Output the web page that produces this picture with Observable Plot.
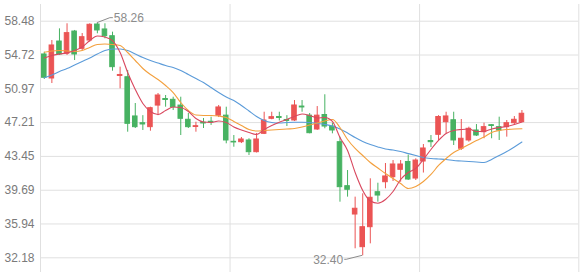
<!DOCTYPE html>
<html><head><meta charset="utf-8">
<script src="https://cdn.jsdelivr.net/npm/d3@7"></script>
<script src="https://cdn.jsdelivr.net/npm/@observablehq/plot@0.6"></script>
<style>
html,body{margin:0;padding:0;background:#fff;}
#chart{width:581px;height:276px;}
</style></head><body><div id="chart"></div>
<script>
// category axis (71 slots, 64 of them with trading data)
const days = [1,2,3,4,5,6,7,8,9,10,11,12,13,14,15,16,17,18,19,20,21,22,23,24,25,26,27,28,29,30,31,32,33,34,35,36,37,38,39,40,41,42,43,44,45,46,47,48,49,50,51,52,53,54,55,56,57,58,59,60,61,62,63,64,65,66,67,68,69,70,71];
const yTicks = [32.18, 35.94, 39.69, 43.45, 47.21, 50.97, 54.72, 58.48];
const gridDays = [0, 25, 50, 71];

const open  = [54.78,52.11,56.22,54.86,57.33,55.41,56.33,58.11,57.56,56.81,52.39,52.25,47.89,47.14,46.70,49.10,49.83,49.74,49.10,47.52,46.72,47.19,47.30,47.98,47.98,45.07,45.03,45.22,43.92,45.96,47.63,47.83,47.50,47.44,48.99,47.98,46.44,48.05,46.77,45.03,40.14,36.99,33.36,35.58,39.47,40.58,41.14,41.96,42.83,40.99,42.88,45.16,45.85,47.25,47.47,44.30,45.22,46.33,46.14,46.92,46.70,46.70,47.14,47.25];
const close = [52.19,55.78,54.78,57.15,54.78,56.70,58.08,57.45,56.81,53.37,52.50,47.07,46.70,47.00,48.81,50.22,49.72,48.92,47.63,46.70,46.81,47.11,47.22,48.89,45.22,45.00,45.33,43.92,45.33,47.44,47.81,47.72,47.39,49.11,48.89,46.03,47.98,46.77,46.33,40.03,39.74,37.63,35.58,38.85,39.10,41.22,42.55,42.55,40.88,42.99,44.33,45.03,47.83,47.89,45.22,45.41,46.52,45.77,46.70,46.83,46.33,47.14,47.52,48.19];
const high  = [55.03,56.33,57.63,58.19,57.45,57.11,58.19,58.26,58.19,57.26,53.37,53.00,49.33,47.98,48.92,50.44,50.22,50.03,50.03,48.22,47.25,47.66,47.81,49.11,48.92,45.77,45.55,45.41,46.00,48.36,48.36,48.36,47.98,49.66,49.66,48.22,48.99,50.30,47.14,45.58,41.88,38.92,39.29,40.96,40.47,42.66,42.99,42.99,43.61,43.18,44.77,45.77,47.98,48.36,48.36,47.55,46.70,46.99,47.14,46.99,47.81,47.44,47.88,48.55];
const low   = [52.00,51.55,54.67,54.67,54.11,55.22,56.14,57.08,56.52,52.92,50.96,46.14,46.55,46.33,46.25,47.98,48.92,48.55,45.77,46.55,46.14,46.55,46.89,47.77,44.85,44.47,44.88,43.55,43.83,45.88,47.52,47.39,46.77,47.33,48.36,45.96,46.33,46.52,45.96,38.36,38.92,33.18,32.40,33.73,38.36,39.85,40.66,40.58,40.77,40.77,41.60,44.44,45.22,45.96,44.66,44.11,45.03,45.66,45.41,45.41,45.22,45.59,46.89,47.19];

const ma5  = [54.39,54.67,54.83,54.94,55.22,55.61,56.33,56.83,56.72,56.33,55.00,52.78,50.89,49.33,48.44,48.11,48.55,48.94,48.89,48.44,47.66,47.27,47.22,47.39,47.22,46.72,46.39,46.11,45.88,46.44,46.89,47.25,47.55,47.89,48.16,48.00,47.72,47.77,47.33,45.55,44.11,41.66,39.66,38.49,38.25,38.66,39.55,40.88,41.66,42.11,43.11,44.22,45.22,45.99,46.33,46.44,46.50,46.22,46.22,46.50,46.66,46.77,46.99,47.27];
const ma10 = [55.03,55.17,55.22,55.17,55.11,55.22,55.56,55.89,55.94,55.89,55.78,55.00,54.11,53.22,52.55,52.00,51.33,50.55,49.44,48.55,48.05,48.00,48.00,47.94,47.77,47.33,46.89,46.44,46.27,46.33,46.39,46.44,46.50,46.55,46.72,46.94,47.16,47.39,47.55,46.66,45.33,44.33,43.55,42.77,42.16,41.55,40.99,40.44,39.88,40.10,40.66,41.44,42.44,43.22,43.88,44.33,44.77,45.22,45.61,46.11,46.33,46.44,46.50,46.52];
const ma20 = [52.19,52.50,52.89,53.22,53.61,54.00,54.39,54.83,55.22,55.39,55.39,55.22,54.83,54.44,54.11,53.83,53.55,53.33,53.00,52.55,52.11,51.66,51.11,50.55,50.05,49.66,49.11,48.50,47.89,47.44,47.22,47.16,47.22,47.25,47.25,47.22,47.11,47.00,46.83,46.50,46.05,45.55,45.11,44.77,44.50,44.27,44.16,43.99,43.77,43.55,43.33,43.22,43.16,43.11,42.99,42.94,42.88,42.83,42.77,43.11,43.55,43.99,44.50,45.05];

const UP = "#eb5454", DOWN = "#47b262";
const candles = open.map((o, i) => ({i, day: days[i], open: o, close: close[i], high: high[i], low: low[i], up: close[i] >= o}));
const lineData = (arr) => arr.map((v, i) => ({i, v}));
const cx = d => d.i + 0.5;

const plot = Plot.plot({
  width: 581, height: 276,
  marginLeft: 40, marginRight: 2.7, marginTop: 4, marginBottom: 4,
  style: {fontFamily: "'Liberation Sans', Arial, sans-serif", fontSize: "12px", background: "#fff", overflow: "visible"},
  x: {type: "linear", domain: [0, days.length], axis: null},
  y: {domain: [30.544, 60.335], axis: null},
  marks: [
    Plot.ruleY(yTicks, {stroke: "#e0e0e0", strokeWidth: 1}),
    Plot.ruleX(gridDays, {stroke: "#e0e0e0", strokeWidth: 1}),
    Plot.text(yTicks, {x: 0, y: d => d, text: d => d.toFixed(2), textAnchor: "end", dx: -6, fill: "#7a7a7a", fontSize: 12}),
    Plot.ruleX(candles, {x: cx, y1: "low", y2: "high", stroke: d => d.up ? UP : DOWN, strokeWidth: 1}),
    Plot.rect(candles, {x1: d => d.i + 0.2, x2: d => d.i + 0.8, y1: "open", y2: "close", fill: d => d.up ? UP : DOWN, stroke: d => d.up ? UP : DOWN, strokeWidth: 1}),
    Plot.line(lineData(ma20), {x: cx, y: "v", stroke: "#5b9bd9", strokeWidth: 1.1, curve: "monotone-x"}),
    Plot.line(lineData(ma10), {x: cx, y: "v", stroke: "#f3a03e", strokeWidth: 1.1, curve: "monotone-x"}),
    Plot.line(lineData(ma5), {x: cx, y: "v", stroke: "#d9485f", strokeWidth: 1.1, curve: "monotone-x"})
  ]
});
document.getElementById("chart").appendChild(plot);

// max / min markers with leader lines, positioned through the plot's scales
const sx = plot.scale("x"), sy = plot.scale("y");
const svg = d3.select(plot);
const iMax = d3.maxIndex(high), iMin = d3.minIndex(low);
const mx = sx.apply(iMax + 0.5), my = sy.apply(high[iMax]);
const nx = sx.apply(iMin + 0.5), ny = sy.apply(low[iMin]);
const g = svg.append("g").attr("fill", "none").attr("stroke", "#8c8c8c").attr("stroke-width", 1);
g.append("polyline").attr("points", `${mx},${my} ${mx + 13},${my - 5} ${mx + 16},${my - 5}`);
g.append("polyline").attr("points", `${nx},${ny} ${nx - 16},${ny + 4} ${nx - 18},${ny + 4}`);
const t = svg.append("g").attr("fill", "#8c8c8c").attr("font-size", 12).attr("font-family", "'Liberation Sans', Arial, sans-serif");
t.append("text").attr("x", mx + 17).attr("y", my - 5).attr("dy", "0.35em").attr("text-anchor", "start").text(d3.format(".2f")(high[iMax]));
t.append("text").attr("x", nx - 19).attr("y", ny + 4).attr("dy", "0.35em").attr("text-anchor", "end").text(d3.format(".2f")(low[iMin]));
</script></body></html>
